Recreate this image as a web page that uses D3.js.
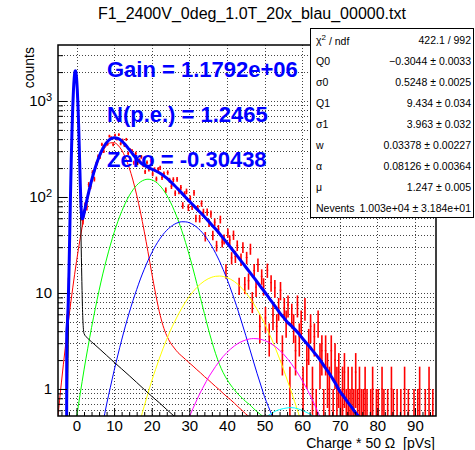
<!DOCTYPE html>
<html><head><meta charset="utf-8">
<script src="https://cdn.jsdelivr.net/npm/d3@7"></script>
<style>body{margin:0;background:#fff} svg text{font-family:"Liberation Sans",Arial,Helvetica,sans-serif}</style>
</head><body><svg id="c" width="475" height="450"></svg>
<script>
// ---------------- data ----------------
const titleText = "F1_2400V_0deg_1.0T_20x_blau_00000.txt";
const xTitle = "Charge * 50 \u03A9\u00A0 [pVs]";
const yTitle = "counts";
const xTickValues = [0,10,20,30,40,50,60,70,80,90];
const yTickValues = [1,10,100,1000];
const fitTexts = ["Gain = 1.1792e+06","N(p.e.) = 1.2465","Zero = -0.30438"];
const statNames = ["\u03C7\u00B2 / ndf","Q0","\u03C30","Q1","\u03C31","w","\u03B1","\u03BC","Nevents"];
const statValues = ["422.1 / 992","\u22120.3044 \u00B1 0.0033","0.5248 \u00B1 0.0025","9.434 \u00B1 0.034","3.963 \u00B1 0.032","0.03378 \u00B1 0.00227","0.08126 \u00B1 0.00364","1.247 \u00B1 0.005","1.003e+04 \u00B1 3.184e+01"];

// histogram (counts per bin), pedestal block: bins of 0.2 from -2.6
const pedHistStart = -2.6, pedHistWidth = 0.2;
const pedHist = [4.5,6.0,12.0,25.0,68,152,348,628,1082,1497,1921,2043,1936,1522,1097,652,381,184,109,66,62,57,68];
// main block: bins of 0.5 from 2.0
const mainHistStart = 2.0, mainHistWidth = 0.5;
const mainHist = [81.0,78.7,134.7,128.9,180.5,153.7,221.5,265.0,260.8,353.0,
299.3,358.6,355.7,430.4,414.4,350.1,440.7,401.6,446.5,359.0,
391.4,345.0,398.1,284.3,309.0,304.4,227.6,284.8,225.2,241.6,
261.5,215.0,183.0,228.6,194.0,239.0,173.8,194.1,154.2,194.7,
201.5,159.4,174.5,117.5,179.8,149.6,129.1,151.8,109.7,153.1,
114.2,125.6,81.8,107.3,114.7,77.6,96.7,79.7,110.6,59.9,
76.2,59.6,85.7,69.5,38.8,69.8,53.9,66.6,40.0,54.6,
31.0,46.2,58.4,33.9,36.3,17.0,42.3,35.6,23.2,40.2,
24.0,31.3,12.0,22.4,29.9,12.2,23.4,13.4,28.8,8.2,
17.1,11.5,19.7,4.5,14.9,11.8,5.5,17.3,3.5,12.8,
5.8,11.3,4.5,7.0,10.7,2.5,7.0,5.0,7.5,1.0,
6.0,4.5,2.5,7.5,3.5,5.0,1.0,7.0,2.0,3.0,
4.5,1.0,3.5,0.5,5.0,2.0,2.5,0.5,2.5,1.5,
1.0,2.5,0.5,2.0,1.0,1.5,0.5,1.0,1.5,0.5,
1.0,0.5,1.0,0.5,1.5,0.5,1.0,0.5,0.5,1.0,
0.5,0,0.5,1.0,0,0.5,0.5,0,1.0,0.5,
0,0.5,0,1.0,0.5,0,0.5,0,0.5,0,
1.0,0,0.5,0,0,0.5,0,0.5,1.0,0,
0,0.5,0,1.0,0,0.5];

// fit components, sampled at integer x starting at *Start
const pe1Start = -5;
const pe1 = [0.49,1.18,2.66,5.65,11.3,21.3,37.5,62.0,96.4,140.7,192.9,248.7,301,342.5,366.2,367.9,347.4,308.5,257.6,202.5,
150.1,105.0,69.6,44.1,26.9,16.2,9.96,6.45,4.58,3.59,3.02,2.67,2.39,2.20,2.03,1.87,1.73,1.59,1.47,1.35,
1.25,1.15,1.06,0.98,0.90,0.83,0.77,0.71,0.65,0.60,0.55,0.51,0.47,0.43,0.40,0.37];
const pe2Start = -3;
const pe2 = [0.07,0.14,0.27,0.50,0.90,1.58,2.66,4.36,6.9,10.6,15.8,22.6,31.5,42.5,55.6,70.4,86.4,102.8,118.5,132.4,
143.4,150.5,153.1,150.8,144.2,133.5,119.9,104.4,88.2,72.3,57.7,44.6,33.6,24.7,17.8,12.5,8.77,6.12,4.31,3.12,
2.33,1.81,1.48,1.26,1.10,0.98,0.88,0.81,0.74,0.69,0.63,0.58,0.54,0.50,0.46,0.42];
const pe3Start = 4;
const pe3 = [0.10,0.17,0.28,0.44,0.69,1.04,1.55,2.26,3.23,4.52,6.19,8.30,10.85,14.0,17.6,21.7,26.2,31.0,35.8,40.6,
45.0,48.8,51.9,54.1,55.2,55.1,53.9,51.6,48.4,44.5,40.1,35.3,30.6,25.9,21.6,17.5,14.05,11.0,8.52,6.48,
4.86,3.62,2.67,1.97,1.46,1.10,0.83,0.66,0.53,0.44,0.37];
const pe4Start = 14;
const pe4 = [0.17,0.24,0.34,0.48,0.66,0.90,1.21,1.59,2.06,2.63,3.30,4.08,4.94,5.91,6.96,8.07,9.20,10.33,11.42,12.44,
13.32,14.06,14.60,14.92,15.0,14.85,14.48,13.90,13.14,12.22,11.20,10.10,8.98,7.85,6.77,5.75,4.81,3.97,3.24,2.60,
2.06,1.62,1.25,0.97,0.74,0.56,0.43,0.33,0.26,0.20];
const pe5Start = 27;
const pe5 = [0.25,0.32,0.41,0.51,0.63,0.77,0.93,1.10,1.30,1.50,1.72,1.95,2.18,2.40,2.61,2.81,2.99,3.13,3.24,3.32,
3.35,3.34,3.29,3.20,3.08,2.92,2.74,2.53,2.32,2.09,1.86,1.64,1.43,1.23,1.05,0.88,0.73,0.60,0.49,0.40,0.32,0.26];
const pe6Start = 44;
const pe6 = [0.25,0.29,0.34,0.38,0.42,0.46,0.49,0.53,0.56,0.59,0.61,0.625,0.635,0.64,0.635,0.62,0.60,0.575,0.55,0.52,
0.485,0.45,0.41,0.37,0.33];
// pedestal + background component
const pedX = [-2.8,-2.6,-2.4,-2.2,-2.0,-1.8,-1.6,-1.4,-1.2,-1.0,-0.8,-0.6,-0.4,-0.3,-0.2,0,0.2,0.4,0.6,0.8,1.0,1.2,1.4,1.6,1.8,2.0,3,4,6,8,10,12,14,16,18,20,22,24,26,28,30];
const pedY = [0.02,0.14,0.69,2.93,10.8,34.6,95.6,228,472,843,1303,1741,2013,2052,2016,1744,1306,847,476,232,99.5,38.5,14.7,6.7,4.4,3.79,3.37,3.10,2.64,2.24,1.90,1.62,1.38,1.17,0.99,0.84,0.72,0.61,0.52,0.44,0.375];
// total fit
const totX = [-2.62,-2.6,-2.4,-2.2,-2.0,-1.8,-1.6,-1.4,-1.2,-1.0,-0.8,-0.6,-0.4,-0.3,-0.2,0,0.2,0.4,0.6,0.8,1.0,1.2,1.4,1.6,1.8,2.0,
3,4,5,6,7,8,9,10,11,12,13,14,15,16,17,18,19,20,21,22,23,24,25,26,27,28,29,30,31,32,33,34,35,36,37,38,39,40,
41,42,43,44,45,46,47,48,49,50,51,52,53,54,55,56,57,58,59,60,61,62,63,64,65,66,67,68,69,70,71,72,73,74,75,76,77,78];
const totY = [0.3,3.8,5.0,7.9,16.6,41.2,103,237,482,854,1316,1756,2030,2070,2035,1766,1331,875,507,266,138,81,62,59.2,62.3,67.4,
102.5,148.2,202.8,262.2,319.7,368,400.8,413.9,407,383.8,350,312.9,278.4,249.8,228.6,213.9,203.5,195.3,187.5,178.5,168.4,156.9,144.7,132.5,120.8,109.7,99.6,90.6,82.4,75.0,68.4,62.3,56.5,51.2,46.3,41.7,37.3,33.4,
29.75,26.5,23.6,21.0,18.65,16.6,14.75,13.1,11.6,10.3,9.1,8.04,7.11,6.25,5.6,5.0,4.6,4.2,3.8,3.4,3.05,2.75,2.45,2.2,1.95,1.7,1.5,1.3,1.12,0.95,0.84,0.74,0.66,0.58,0.52,0.46,0.41,0.36];

// ---------------- drawing ----------------
const F = {l:58, r:436, t:45, b:416};
const svg = d3.select("#c");
svg.append("rect").attr("width",475).attr("height",450).attr("fill","#fff");
const x = d3.scaleLinear().domain([-4.92,95.6]).range([F.l,F.r]);
const y = d3.scaleLog().domain([0.523,3830]).range([F.b,F.t]);

svg.append("defs").append("clipPath").attr("id","clip").append("rect")
  .attr("x",F.l).attr("y",F.t).attr("width",F.r-F.l).attr("height",F.b-F.t);

// grid
const grid = svg.append("g").attr("stroke","#444").attr("stroke-width",1).attr("stroke-dasharray","1,2");
const yAll = y.ticks();
yAll.forEach(v=>{ const yy=Math.round(y(v))+0.5; grid.append("line").attr("x1",F.l).attr("x2",F.r).attr("y1",yy).attr("y2",yy); });
xTickValues.forEach(v=>{ const xx=Math.round(x(v))+0.5; grid.append("line").attr("x1",xx).attr("x2",xx).attr("y1",F.t).attr("y2",F.b); });

const plot = svg.append("g").attr("clip-path","url(#clip)");

// histogram with error bars
const hg = plot.append("g").attr("stroke","#ff0000").attr("stroke-width",1).attr("fill","none");
function drawHist(start,width,vals){
  vals.forEach((v,i)=>{
    if(v<=0) return;
    const lo=start+i*width, hi=lo+width, c=lo+width/2;
    const e=Math.sqrt(v*0.5);
    const yl = (v-e)>0.05 ? y(v-e) : F.b+3;
    hg.append("line").attr("x1",x(c)).attr("x2",x(c)).attr("y1",Math.min(yl,F.b+3)).attr("y2",y(v+e)).attr("stroke-width",1.6);
    hg.append("line").attr("x1",x(lo)).attr("x2",x(hi)).attr("y1",y(v)).attr("y2",y(v));
  });
}
drawHist(pedHistStart,pedHistWidth,pedHist);
drawHist(mainHistStart,mainHistWidth,mainHist);

const line = d3.line().x(d=>x(d[0])).y(d=>y(d[1])).curve(d3.curveMonotoneX);
function comp(start,vals,color,w){
  const pts = vals.map((v,i)=>[start+i,v]);
  plot.append("path").attr("d",line(pts)).attr("fill","none").attr("stroke",color).attr("stroke-width",w);
}
comp(pe1Start,pe1,"#ff0000",1);
comp(pe2Start,pe2,"#00ff00",1);
comp(pe3Start,pe3,"#0000ff",1);
comp(pe4Start,pe4,"#ffff00",1);
comp(pe5Start,pe5,"#ff00ff",1);
comp(pe6Start,pe6,"#00ffff",1);
plot.append("path").attr("d",line(pedX.map((v,i)=>[v,pedY[i]]))).attr("fill","none").attr("stroke","#000").attr("stroke-width",1);
plot.append("path").attr("d",line(totX.map((v,i)=>[v,totY[i]]))).attr("fill","none").attr("stroke","#0000ff").attr("stroke-width",3);

// axes
const xMinor = d3.range(-4,96,2).filter(v=>v%10!==0);
const ax = svg.append("g").attr("transform",`translate(0,${F.b})`)
  .call(d3.axisBottom(x).tickValues(xTickValues).tickSize(-8).tickPadding(4.5).tickFormat(d3.format("d")));
ax.select(".domain").remove();
ax.selectAll("text").attr("font-size",15).attr("fill","#000").style("font-family","'Liberation Sans',Arial,sans-serif");
const axm = svg.append("g").attr("transform",`translate(0,${F.b})`)
  .call(d3.axisBottom(x).tickValues(xMinor).tickSize(-4).tickFormat(""));
axm.select(".domain").remove();

const yMinor = yAll.filter(v=>!yTickValues.includes(v));
const ay = svg.append("g").attr("transform",`translate(${F.l},0)`)
  .call(d3.axisLeft(y).tickValues(yTickValues).tickSize(-9).tickPadding(6).tickFormat(()=>""));
ay.select(".domain").remove();
ay.selectAll(".tick text").each(function(d){
  const t=d3.select(this).attr("font-size",15).attr("fill","#000").style("font-family","'Liberation Sans',Arial,sans-serif");
  const p=Math.round(Math.log10(d));
  if(p<=1){ t.text(String(d)); }
  else { t.append("tspan").text("10"); t.append("tspan").attr("dy","-0.5em").attr("font-size",11).text(String(p)); }
});
const aym = svg.append("g").attr("transform",`translate(${F.l},0)`)
  .call(d3.axisLeft(y).tickValues(yMinor).tickSize(-5).tickFormat(""));
aym.select(".domain").remove();

// frame
svg.append("rect").attr("x",F.l).attr("y",F.t).attr("width",F.r-F.l).attr("height",F.b-F.t)
  .attr("fill","none").attr("stroke","#000").attr("stroke-width",1.5);

// titles
svg.append("text").attr("x",252).attr("y",19).attr("text-anchor","middle").attr("font-size",16).text(titleText);
svg.append("text").attr("x",435).attr("y",448).attr("text-anchor","end").attr("font-size",14).text(xTitle);
svg.append("text").attr("transform","translate(34,47) rotate(-90)").attr("text-anchor","end").attr("font-size",14).text(yTitle);

// fit result texts
fitTexts.forEach((t,i)=>{
  svg.append("text").attr("x",107).attr("y",77+45*i).attr("font-size",22).attr("font-weight","bold")
    .attr("fill","#0000ff").text(t);
});

// stats box
svg.append("rect").attr("x",310.5).attr("y",28.5).attr("width",163).attr("height",189)
  .attr("fill","#fff").attr("stroke","#000").attr("stroke-width",1);
statNames.forEach((n,i)=>{
  const yy = 39.5+21*i+4;
  const t = svg.append("text").attr("x",316).attr("y",yy).attr("font-size",10.5);
  if(i===0){ t.append("tspan").text("\u03C7"); t.append("tspan").attr("dy","-0.4em").attr("font-size",8).text("2");
             t.append("tspan").attr("dy","0.4em").text(" / ndf"); }
  else t.text(n);
  svg.append("text").attr("x",471).attr("y",yy).attr("text-anchor","end").attr("font-size",10.5).text(statValues[i]);
});
</script></body></html>
